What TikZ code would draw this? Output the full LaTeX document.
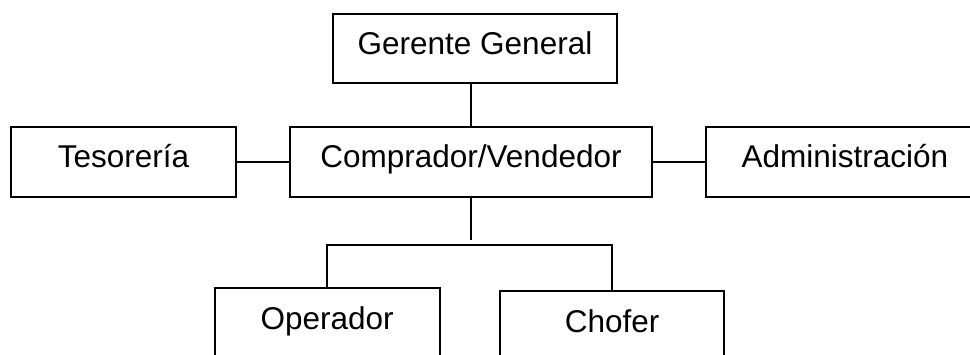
\documentclass[tikz,border=0pt]{standalone}
\usepackage{fontspec}
\setmainfont{Liberation Sans}
\begin{document}
\begin{tikzpicture}[x=1pt,y=1pt,
  box/.style={draw=black,line width=2pt,rectangle,inner sep=0pt,anchor=north west,
    font=\fontsize{31.5}{38}\selectfont,text height=40.3pt},
  link/.style={draw=black,line width=2pt}]
\useasboundingbox (0,0) rectangle (970,-354);
\node[box,minimum width=284pt,text depth=28.7pt] (ger) at (332,-12.7) {Gerente General};
\node[box,minimum width=225pt,text depth=29.4pt] (tes) at (10,-126.3) {Tesorería};
\node[box,minimum width=362.6pt,text depth=29.4pt] (comp) at (288.7,-126.3) {Comprador/Vendedor};
\node[box,minimum width=277.4pt,text depth=29.4pt] (adm) at (705.3,-126.3) {Administración};
\node[box,minimum width=225pt,text depth=60pt,text height=41pt] (op) at (213.7,-287.3) {Operador};
\node[box,minimum width=224.3pt,text depth=60pt,text height=42pt] (ch) at (499,-289.7) {Chofer};
\coordinate (stub) at (471.3,-240);
\coordinate (bus) at (470,-245);
\draw[link] (ger.south -| stub) -- (comp.north -| stub);
\draw[link] (tes.east) -- (comp.west);
\draw[link] (comp.east) -- (adm.west);
\draw[link] (comp.south -| stub) -- (stub);
\draw[link] (op.north) -- (op.north |- bus) -- (ch.north |- bus) -- (ch.north);
\end{tikzpicture}
\end{document}
